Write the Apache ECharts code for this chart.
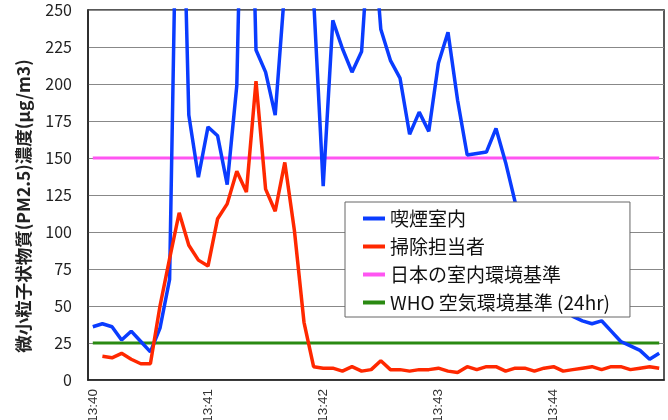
<!DOCTYPE html>
<html>
<head>
<meta charset="utf-8">
<script src="https://cdn.jsdelivr.net/npm/echarts@6/dist/echarts.min.js"></script>
<style>html,body{margin:0;padding:0;background:#fff}#c{width:668px;height:420px}</style>
</head>
<body>
<div id="c"></div>
<script>
var categories = [];
(function(){ for (var m = 40; m <= 44; m++) { for (var s = 0; s < 60; s += 5) { categories.push('13:' + m + ':' + (s < 10 ? '0' + s : s)); } } })();

var smokingRoom = [36,38,36,27,33,26,19,35,68,440,179,137,171,165,132,199,485,223,208,179,265,330,310,258,131,243,224,208,222,320,237,216,204,166,181,168,214,235,189,152,153,154,170,147,120,106,90,77,63,52,43,40,38,40,33,26,23,20,14,18];
var cleaner = [null,16,15,18,14,11,11,50,82,113,91,81,77,109,119,141,127,202,129,114,147,101,39,9,8,8,6,9,6,7,13,7,7,6,7,7,8,6,5,9,7,9,9,6,8,8,6,8,9,6,7,8,9,7,9,9,7,8,9,8];
var japanStdValue = 150;
var whoStdValue = 25;
var japanStd = categories.map(function(){ return japanStdValue; });
var whoStd = categories.map(function(){ return whoStdValue; });
var seriesNames = ['喫煙室内', '掃除担当者', '日本の室内環境基準', 'WHO 空気環境基準 (24hr)'];
var yTicks = {min: 0, max: 250, interval: 25};

var font = '"Noto Sans CJK JP", "Noto Sans", sans-serif';
var chart = echarts.init(document.getElementById('c'));
chart.setOption({
  animation: false,
  backgroundColor: '#fff',
  grid: {left: 88, right: 4, top: 10, bottom: 40, containLabel: false, outerBoundsMode: 'none',
    show: true, borderColor: '#222', borderWidth: 1.5, backgroundColor: 'transparent'},
  legend: {
    orient: 'vertical', left: 345, top: 202, z: 20,
    backgroundColor: '#fff', borderColor: '#666', borderWidth: 1,
    padding: [7, 20, 5, 18], itemGap: 9,
    itemWidth: 22, itemHeight: 4, icon: 'rect',
    textStyle: {fontFamily: font, fontSize: 19, color: '#111'},
    data: seriesNames
  },
  xAxis: {
    type: 'category', data: categories, boundaryGap: true,
    axisLine: {show: true, lineStyle: {color: '#222', width: 1.5}},
    axisTick: {show: false},
    axisLabel: {interval: 11, rotate: 90, fontFamily: '"Liberation Sans", Arial, sans-serif', fontSize: 13.5, color: '#333', margin: 9,
      formatter: function(v){ return v.substring(0,5); }},
    splitLine: {show: false}
  },
  yAxis: {
    type: 'value', min: yTicks.min, max: yTicks.max, interval: yTicks.interval,
    name: '微小粒子状物質(PM2.5)濃度(μg/m3)', nameLocation: 'middle', nameGap: 56, nameRotate: 90,
    nameTextStyle: {fontFamily: font, fontSize: 17.5, fontWeight: 'bold', color: '#222', padding: [0, 22, 0, 0]},
    axisLine: {show: true, lineStyle: {color: '#222', width: 1.5}},
    axisTick: {show: false},
    axisLabel: {fontFamily: font, fontSize: 16, color: '#222', margin: 16},
    splitLine: {show: true, lineStyle: {color: '#888', width: 1}}
  },
  series: [
    {name: seriesNames[0], type: 'line', data: smokingRoom, showSymbol: false, symbol: 'none', z: 4,
      lineStyle: {color: '#0a3cff', width: 3.5}, itemStyle: {color: '#0a3cff'}},
    {name: seriesNames[1], type: 'line', data: cleaner, showSymbol: false, symbol: 'none', z: 5,
      lineStyle: {color: '#ff2800', width: 3.5}, itemStyle: {color: '#ff2800'}},
    {name: seriesNames[2], type: 'line', data: japanStd, showSymbol: false, symbol: 'none', z: 3,
      lineStyle: {color: '#ff55f2', width: 3}, itemStyle: {color: '#ff55f2'}},
    {name: seriesNames[3], type: 'line', data: whoStd, showSymbol: false, symbol: 'none', z: 3,
      lineStyle: {color: '#2a8a12', width: 3}, itemStyle: {color: '#2a8a12'}}
  ]
});
</script>
</body>
</html>
